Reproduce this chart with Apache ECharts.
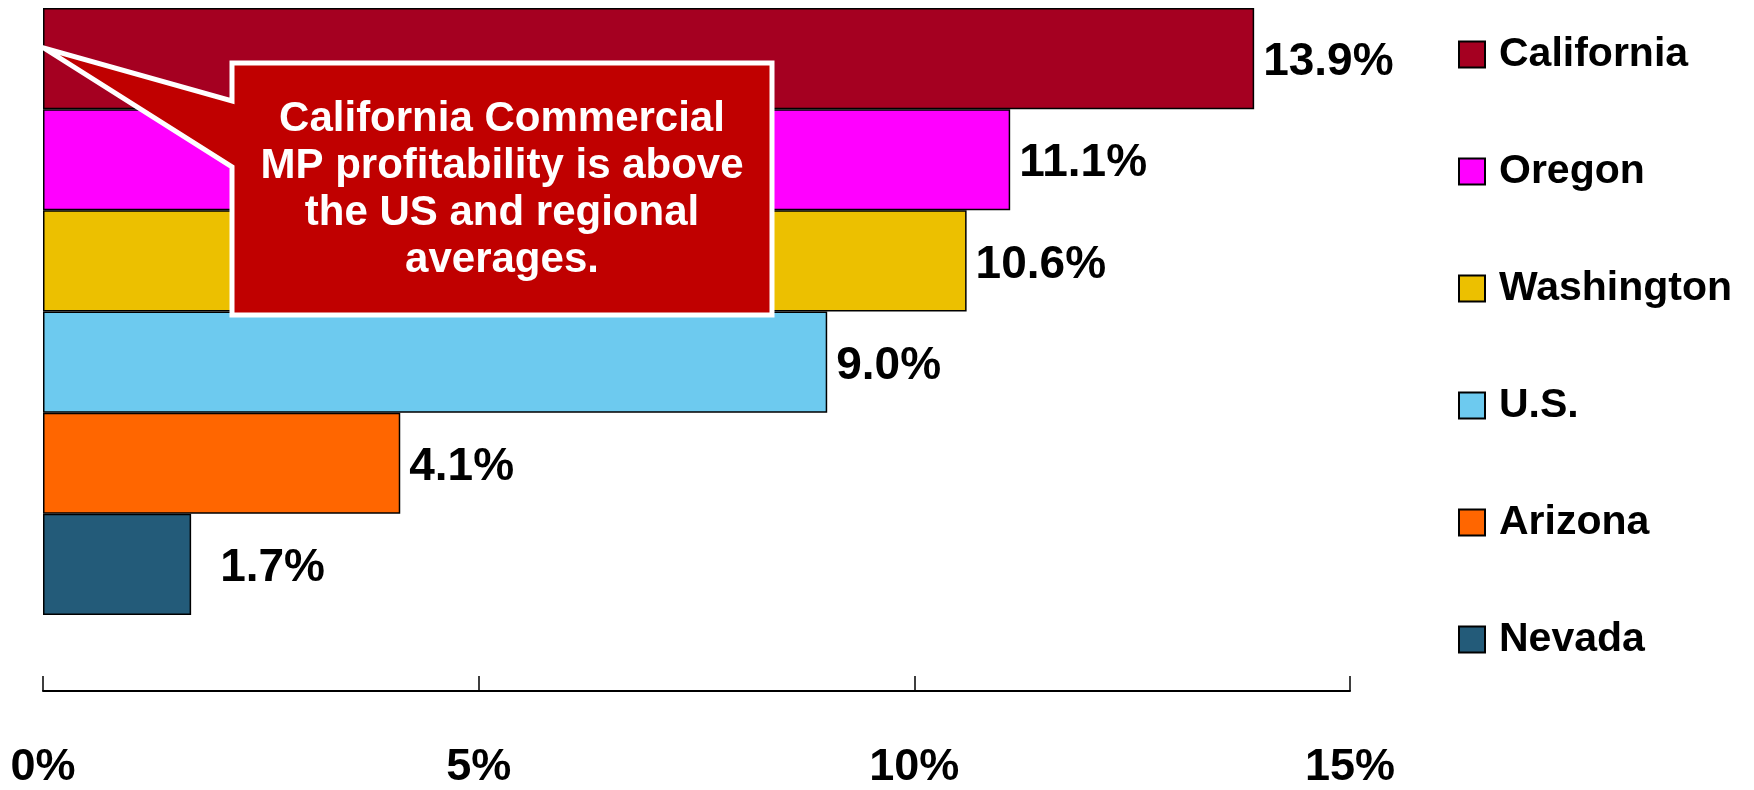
<!DOCTYPE html>
<html>
<head>
<meta charset="utf-8">
<script src="https://cdn.jsdelivr.net/npm/echarts@6/dist/echarts.min.js"></script>
<style>
html,body{margin:0;padding:0;background:#fff;}
#chart{width:1754px;height:790px;}
</style>
</head>
<body>
<div id="chart"></div>
<script>
// ---- data ----
const categories = ['California', 'Oregon', 'Washington', 'U.S.', 'Arizona', 'Nevada'];
const values = [13.9, 11.1, 10.6, 9.0, 4.1, 1.7];
const colors = ['#A50021', '#FF00FF', '#ECC000', '#6DCAEF', '#FF6600', '#235B79'];
const xTicks = [0, 5, 10, 15];
const calloutLines = ['California Commercial', 'MP profitability is above', 'the US and regional', 'averages.'];

const FONT = '"Liberation Sans", Arial, sans-serif';

const series = categories.map((name, i) => ({
  name: name,
  type: 'bar',
  barWidth: '100%',
  barGap: '-100%',
  data: categories.map((c, j) => (j === i ? values[i] : null)),
  itemStyle: { color: colors[i], borderColor: '#000', borderWidth: 1.5 },
  label: {
    show: true,
    position: 'right',
    distance: name === 'Nevada' ? 29 : 9,
    offset: [0, 4],
    formatter: p => p.value.toFixed(1) + '%',
    color: '#000',
    fontFamily: FONT,
    fontWeight: 'bold',
    fontSize: 46
  },
  emphasis: { disabled: true },
  animation: false
}));

const chart = echarts.init(document.getElementById('chart'), null, { renderer: 'canvas' });
chart.setOption({
  animation: false,
  backgroundColor: '#fff',
  grid: { left: 43, right: 404, top: 8, bottom: 172, containLabel: false },
  xAxis: {
    type: 'value',
    min: xTicks[0],
    max: xTicks[xTicks.length - 1],
    interval: 5,
    offset: 76,
    axisLine: { show: true, lineStyle: { color: '#000', width: 2 } },
    axisTick: { show: true, inside: true, length: 15, lineStyle: { color: '#000', width: 1.5 } },
    splitLine: { show: false },
    axisLabel: {
      margin: 54,
      formatter: v => v + '%',
      color: '#000',
      fontFamily: FONT,
      fontWeight: 'bold',
      fontSize: 45
    }
  },
  yAxis: {
    type: 'category',
    data: categories,
    inverse: true,
    axisLine: { show: false },
    axisTick: { show: false },
    axisLabel: { show: false },
    splitLine: { show: false }
  },
  legend: {
    orient: 'vertical',
    left: 1458,
    top: 34,
    padding: 0,
    itemWidth: 26,
    itemHeight: 26,
    itemGap: 76,
    icon: 'rect',
    selectedMode: false,
    data: categories,
    textStyle: {
      color: '#000',
      fontFamily: FONT,
      fontWeight: 'bold',
      fontSize: 41,
      lineHeight: 41,
      padding: [0, 0, 0, 9]
    }
  },
  series: series,
  graphic: [
    {
      type: 'polygon',
      z: 100,
      shape: {
        points: [[232, 63], [772, 63], [772, 315], [232, 315], [232, 167], [44, 48], [232, 101]]
      },
      style: { fill: '#C00000', stroke: '#fff', lineWidth: 5, lineJoin: 'miter' }
    },
    {
      type: 'text',
      z: 101,
      x: 502,
      y: 190,
      style: {
        text: calloutLines.join('\n'),
        fill: '#fff',
        font: 'bold 42px ' + FONT,
        align: 'center',
        verticalAlign: 'middle',
        lineHeight: 47
      }
    }
  ]
});
</script>
</body>
</html>
